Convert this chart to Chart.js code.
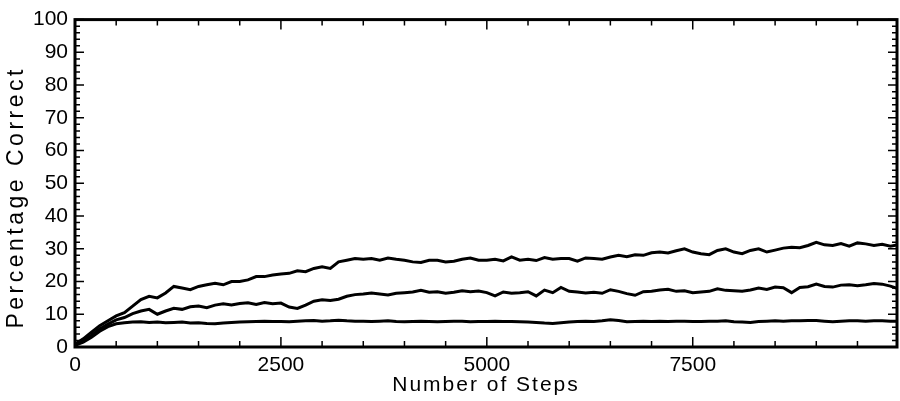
<!DOCTYPE html>
<html>
<head>
<meta charset="utf-8">
<title>Percentage Correct vs Number of Steps</title>
<script src="https://cdn.jsdelivr.net/npm/chart.js@4.4.1/dist/chart.umd.min.js"></script>
<style>
  html, body { margin: 0; padding: 0; background: #fff; }
  #wrap { width: 900px; height: 401px; position: relative; }
</style>
</head>
<body>
<div id="wrap"><canvas id="chart"></canvas></div>
<script>
// x positions (number of steps)
const steps = [
  0, 100, 200, 300, 400, 500, 600, 700, 800, 900,
  1000, 1100, 1200, 1300, 1400, 1500, 1600, 1700, 1800, 1900,
  2000, 2100, 2200, 2300, 2400, 2500, 2600, 2700, 2800, 2900,
  3000, 3100, 3200, 3300, 3400, 3500, 3600, 3700, 3800, 3900,
  4000, 4100, 4200, 4300, 4400, 4500, 4600, 4700, 4800, 4900,
  5000, 5100, 5200, 5300, 5400, 5500, 5600, 5700, 5800, 5900,
  6000, 6100, 6200, 6300, 6400, 6500, 6600, 6700, 6800, 6900,
  7000, 7100, 7200, 7300, 7400, 7500, 7600, 7700, 7800, 7900,
  8000, 8100, 8200, 8300, 8400, 8500, 8600, 8700, 8800, 8900,
  9000, 9100, 9200, 9300, 9400, 9500, 9600, 9700, 9800, 9900, 9980
];

// upper run
const runHigh = [
  0.8, 2.5, 4.5, 6.5, 8.0, 9.5, 10.5, 12.5, 14.5, 15.5,
  15.0, 16.5, 18.5, 18.0, 17.5, 18.5, 19.0, 19.5, 19.0, 20.0,
  20.0, 20.5, 21.5, 21.5, 22.0, 22.3, 22.5, 23.3, 23.0, 24.0,
  24.5, 24.0, 26.0, 26.5, 27.0, 26.8, 27.0, 26.5, 27.2, 26.8,
  26.5, 26.0, 25.8, 26.5, 26.5, 26.0, 26.2, 26.8, 27.2, 26.5,
  26.5, 26.8, 26.3, 27.5, 26.5, 26.8, 26.4, 27.3, 26.8, 27.0,
  27.0, 26.2, 27.2, 27.0, 26.8, 27.5, 28.0, 27.6, 28.2, 28.0,
  28.8, 29.0, 28.7, 29.4, 30.0, 29.0, 28.5, 28.2, 29.5, 30.0,
  29.0, 28.5, 29.5, 30.0, 29.0, 29.6, 30.2, 30.5, 30.3, 31.0,
  32.0, 31.2, 31.0, 31.6, 30.8, 31.8, 31.5, 31.0, 31.4, 30.8, 31.2
];

// middle run
const runMid = [
  0.5, 2.0, 3.5, 5.5, 7.0, 8.3, 9.0, 10.2, 11.0, 11.5,
  10.0, 11.0, 11.8, 11.5, 12.3, 12.5, 12.0, 12.8, 13.2, 12.8,
  13.3, 13.5, 13.0, 13.6, 13.2, 13.4, 12.2, 11.8, 12.8, 14.0,
  14.4, 14.2, 14.6, 15.5, 16.0, 16.2, 16.5, 16.2, 15.9, 16.4,
  16.6, 16.8, 17.3, 16.7, 16.9, 16.4, 16.7, 17.2, 16.9, 17.1,
  16.6, 15.6, 16.8, 16.4, 16.6, 16.9, 15.6, 17.4, 16.6, 18.2,
  17.0, 16.8, 16.5, 16.7, 16.4, 17.5, 17.0, 16.3, 15.8, 16.9,
  17.0, 17.4, 17.6, 17.0, 17.2, 16.6, 16.8, 17.0, 17.8, 17.3,
  17.2, 17.0, 17.4, 18.0, 17.6, 18.3, 18.1, 16.6, 18.2, 18.4,
  19.2, 18.5, 18.3, 18.9, 19.0, 18.7, 19.0, 19.4, 19.2, 18.6, 17.9
];

// lower run
const runLow = [
  0.5, 1.5, 3.0, 4.8, 6.2, 7.1, 7.4, 7.6, 7.7, 7.5,
  7.6, 7.4, 7.5, 7.6, 7.3, 7.4, 7.2, 7.1, 7.3, 7.5,
  7.6, 7.7, 7.8, 7.9, 7.8, 7.8, 7.7, 7.9, 8.0, 8.1,
  7.9, 8.0, 8.2, 8.0, 7.9, 7.9, 7.8, 7.9, 8.0, 7.8,
  7.7, 7.8, 7.9, 7.8, 7.7, 7.8, 7.9, 7.9, 7.7, 7.8,
  7.8, 7.9, 7.8, 7.8, 7.7, 7.6, 7.5, 7.3, 7.2, 7.4,
  7.6, 7.8, 7.9, 7.8, 8.0, 8.3, 8.1, 7.7, 7.8, 7.9,
  7.8, 7.9, 7.8, 7.9, 7.9, 7.8, 7.8, 7.9, 7.9, 8.0,
  7.7, 7.6, 7.5, 7.8, 7.9, 8.0, 7.9, 8.0, 8.0, 8.1,
  8.1, 7.9, 7.7, 7.9, 8.0, 8.0, 7.9, 8.0, 8.0, 7.9, 7.9
];

// labelled ticks
const xTickVals = [0, 2500, 5000, 7500];
const xMax = 9980;
const xMajor = 2500, xMinor = 500;
const yMajor = 10, yMinor = 2;

const toPoints = vals => vals.map((v, i) => ({ x: steps[i], y: v }));

// inward tick marks on all four sides plus the box frame
const frameTicks = {
  id: 'frameTicks',
  beforeDraw(chart) {
    // spaced-out axis titles like the original plot
    Object.values(chart.scales).forEach(s => {
      if (s._spaced) return;
      const orig = s.drawTitle;
      s.drawTitle = function () {
        const c = this.ctx;
        c.save();
        c.letterSpacing = this.axis === 'y' ? '3.5px' : '2px';
        if (this.axis === 'y') c.translate(0, 14);
        orig.call(this);
        c.restore();
      };
      s._spaced = true;
    });
  },
  afterDraw(chart) {
    const { ctx, chartArea: a, scales: { x, y } } = chart;
    ctx.save();
    ctx.strokeStyle = '#000';
    ctx.lineWidth = 1.5;
    ctx.beginPath();
    for (let v = 0; v <= xMax; v += xMinor) {
      const px = x.getPixelForValue(v);
      const len = v % xMajor === 0 ? 10 : 6;
      ctx.moveTo(px, a.bottom); ctx.lineTo(px, a.bottom - len);
      ctx.moveTo(px, a.top); ctx.lineTo(px, a.top + len);
    }
    for (let v = 0; v <= 100; v += yMinor) {
      const py = y.getPixelForValue(v);
      const len = v % yMajor === 0 ? 9 : 5;
      ctx.moveTo(a.left, py); ctx.lineTo(a.left + len, py);
      ctx.moveTo(a.right, py); ctx.lineTo(a.right - len, py);
    }
    ctx.stroke();
    ctx.lineWidth = 3;
    ctx.strokeRect(a.left, a.top, a.right - a.left, a.bottom - a.top);
    ctx.restore();
  }
};

const lineStyle = {
  borderColor: '#000',
  borderWidth: 3,
  pointRadius: 0,
  tension: 0,
  fill: false
};

new Chart(document.getElementById('chart'), {
  type: 'line',
  data: {
    datasets: [
      { label: 'High', data: toPoints(runHigh), ...lineStyle },
      { label: 'Mid', data: toPoints(runMid), ...lineStyle },
      { label: 'Low', data: toPoints(runLow), ...lineStyle }
    ]
  },
  options: {
    responsive: true,
    maintainAspectRatio: false,
    animation: false,
    layout: { padding: { top: 12, right: 3, left: 0, bottom: 0 } },
    plugins: { legend: { display: false }, tooltip: { enabled: false } },
    scales: {
      x: {
        type: 'linear',
        min: 0,
        max: xMax,
        grid: { display: false, drawTicks: false },
        border: { display: false },
        afterFit: s => { s.height = 54; },
        afterBuildTicks: s => { s.ticks = xTickVals.map(v => ({ value: v })); },
        ticks: {
          autoSkip: false,
          padding: 6,
          color: '#000',
          maxRotation: 0,
          callback: v => String(v),
          font: { family: 'Liberation Sans', size: 21 }
        },
        title: {
          display: true,
          text: 'Number of Steps',
          color: '#000',
          padding: { top: 0, bottom: 3 },
          font: { family: 'Liberation Sans', size: 21 }
        }
      },
      y: {
        min: 0,
        max: 100,
        grid: { display: false, drawTicks: false },
        border: { display: false },
        afterFit: s => { s.width = 75; },
        ticks: {
          stepSize: yMajor,
          padding: 7,
          color: '#000',
          font: { family: 'Liberation Sans', size: 21 }
        },
        title: {
          display: true,
          text: 'Percentage Correct',
          color: '#000',
          padding: { top: 3, bottom: 0 },
          font: { family: 'Liberation Sans', size: 23 }
        }
      }
    }
  },
  plugins: [frameTicks]
});
</script>
</body>
</html>
